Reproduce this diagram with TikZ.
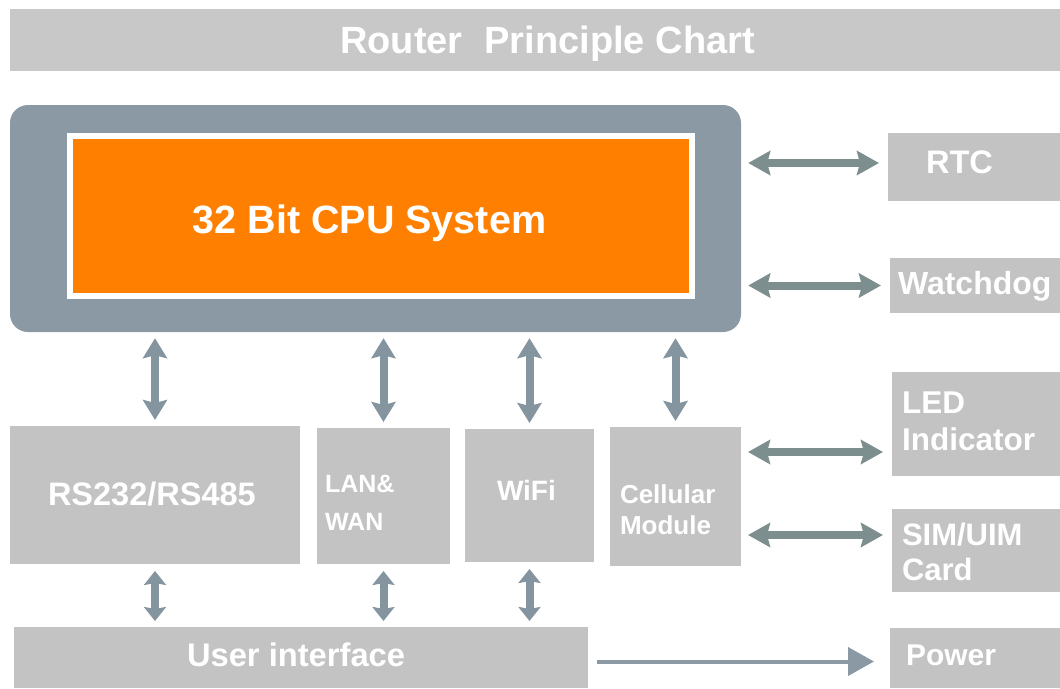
\documentclass[tikz,border=0pt]{standalone}
\usepackage{fontspec}
\setmainfont{Liberation Sans}
\usetikzlibrary{arrows.meta}
\definecolor{boxgray}{HTML}{C3C3C3}
\definecolor{titlegray}{HTML}{C8C8C8}
\definecolor{framegray}{HTML}{8A99A4}
\definecolor{cpuorange}{HTML}{FF8000}
\definecolor{varrowc}{HTML}{8595A0}
\definecolor{harrowc}{HTML}{7C8E8E}
\begin{document}
\begin{tikzpicture}[x=1pt,y=-1pt,
  gbox/.style={fill=boxgray, draw=none, inner sep=0pt, outer sep=0pt},
  lbl/.style={text=white, font=\bfseries\fontsize{#1}{#1}\selectfont, inner sep=0pt, outer sep=0pt, anchor=base west},
  varrow/.style={draw=varrowc, line width=8pt, >={Stealth[length=20pt,width=24pt,inset=3pt]}, <->, shorten <=6pt, shorten >=6pt},
  varrowshort/.style={draw=varrowc, line width=8pt, >={Stealth[length=14pt,width=22pt,inset=2pt]}, <->, shorten <=7pt, shorten >=6pt},
  harrow/.style={draw=harrowc, line width=8pt, >={Stealth[length=22pt,width=24pt,inset=3pt]}, <->, shorten <=7pt, shorten >=9pt},
  parrow/.style={draw=framegray, line width=4pt, -{Triangle[length=26pt,width=28pt]}, shorten <=9pt, shorten >=16pt}
]
\useasboundingbox (0,0) rectangle (1060,688);
\fill[white] (0,0) rectangle (1060,688);

% title bar
\node[fill=titlegray, inner sep=0pt, minimum width=1050, minimum height=62] (title) at (535,40) {};
\node[lbl=38, anchor=base] (ttl) at (547.5,53.5) {Router\hspace{0.3em} Principle Chart};

% CPU
\node[fill=framegray, rounded corners=18pt, inner sep=0pt, minimum width=731, minimum height=227] (cpu) at (375.5,218.5) {};
\node[fill=cpuorange, draw=white, line width=6pt, inner sep=0pt, minimum width=622, minimum height=160] (core) at (381,216) {};
\node[lbl=39.5, anchor=base] (cput) at (369.5,233) {32 Bit CPU System};

% right column
\node[gbox, minimum width=172, minimum height=68] (rtc) at (974,167) {};
\node[gbox, minimum width=170, minimum height=55] (wd) at (975,285.5) {};
\node[gbox, minimum width=168, minimum height=104] (led) at (976,424) {};
\node[gbox, minimum width=168, minimum height=83] (sim) at (976,550.5) {};
\node[gbox, minimum width=170, minimum height=60] (pw) at (975,658) {};

\node[lbl=32.6] (rtct) at (926,173) {RTC};
\node[lbl=32] (wdt) at (898,294) {Watchdog};
\node[lbl=31.5] (ledt1) at (902,413) {LED};
\node[lbl=31.5] (ledt2) at (902,450) {Indicator};
\node[lbl=31] (simt1) at (902,545) {SIM/UIM};
\node[lbl=31] (simt2) at (902,580) {Card};
\node[lbl=30] (pwt) at (906,665) {Power};

% modules
\node[gbox, minimum width=290, minimum height=138] (rs) at (155,495) {};
\node[gbox, minimum width=133, minimum height=136] (lan) at (383.5,496) {};
\node[gbox, minimum width=129, minimum height=133] (wifi) at (529.5,495.5) {};
\node[gbox, minimum width=131, minimum height=139] (cell) at (675.5,496.5) {};
\node[gbox, minimum width=574, minimum height=61] (ui) at (301,657.5) {};

\node[lbl=32.5] (rst) at (48,505) {RS232/RS485};
\node[lbl=25] (lant1) at (325,492) {LAN\&};
\node[lbl=25] (lant2) at (325,530) {WAN};
\node[lbl=28] (wifit) at (497,500) {WiFi};
\node[lbl=26] (cellt1) at (620,503) {Cellular};
\node[lbl=26] (cellt2) at (620,534) {Module};
\node[lbl=32.7] (uit) at (187,666) {User interface};

% vertical arrows
\draw[varrow] (rs.north |- cpu.south) -- (rs.north);
\draw[varrow] (lan.north |- cpu.south) -- (lan.north);
\draw[varrow] (wifi.north |- cpu.south) -- (wifi.north);
\draw[varrow] (cell.north |- cpu.south) -- (cell.north);
\draw[varrowshort] (rs.south) -- (rs.south |- ui.north);
\draw[varrowshort] (lan.south) -- (lan.south |- ui.north);
\draw[varrowshort] (wifi.south) -- (wifi.south |- ui.north);

% horizontal arrows
\draw[harrow] ([yshift=4pt]rtc.west -| cpu.east) -- ([yshift=4pt]rtc.west);
\draw[harrow] (wd.west -| cpu.east) -- (wd.west);
\draw[harrow] ([yshift=44.5pt]cell.east) -- ([yshift=44.5pt]cell.east -| led.west);
\draw[harrow] ([yshift=-38.5pt]cell.east) -- ([yshift=-38.5pt]cell.east -| sim.west);
\draw[parrow] ([yshift=-4pt]ui.east) -- ([yshift=-4pt]ui.east -| pw.west);
\end{tikzpicture}
\end{document}
